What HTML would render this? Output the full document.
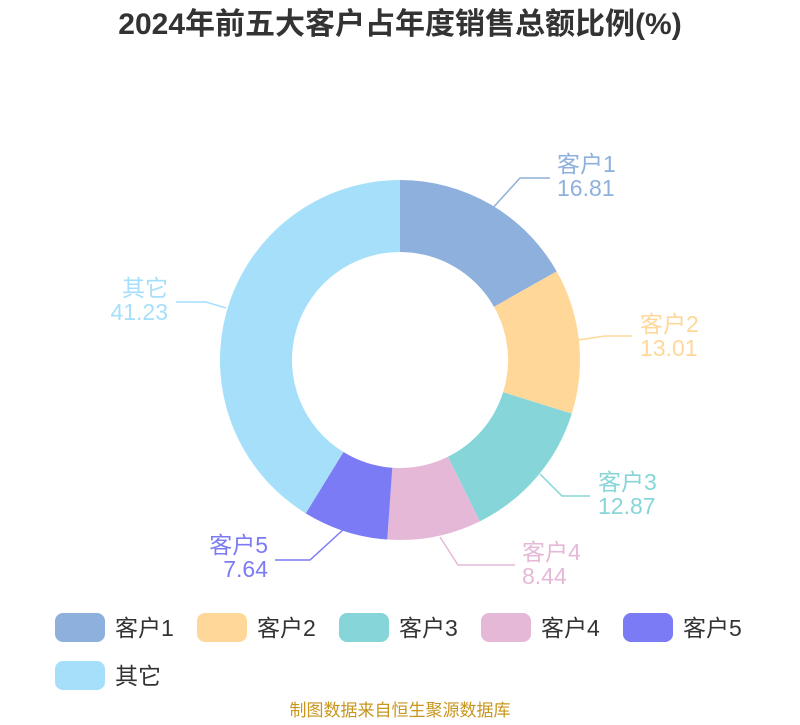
<!DOCTYPE html>
<html><head><meta charset="utf-8"><style>
body{margin:0;background:#fff;width:800px;height:720px;overflow:hidden;font-family:"Liberation Sans","Noto Sans CJK SC",sans-serif}
svg text{font-family:"Liberation Sans","Noto Sans CJK SC",sans-serif}
</style></head><body>
<svg id="s" width="800" height="720" xmlns="http://www.w3.org/2000/svg">
<text x="400" y="34" text-anchor="middle" font-size="30" font-weight="bold" fill="#333">2024年前五大客户占年度销售总额比例(%)</text>
<g id="arcs"></g>
<g fill="none" stroke-width="1.5">
<polyline points="490,211 520,178 550,178" stroke="#8eb0dc"/>
<polyline points="578,340 605,336 632,336" stroke="#ffd899"/>
<polyline points="540,474 562,496 590,496" stroke="#86d6d9"/>
<polyline points="440,537 458,565 515,565" stroke="#e6b8d8"/>
<polyline points="345,528 310,560 275,560" stroke="#7b7bf5"/>
<polyline points="226,308 206,302 176,302" stroke="#a6dffa"/>
</g>
<g font-size="23">
<text x="557" y="172" fill="#8eb0dc">客户1</text><text x="557" y="196" fill="#8eb0dc">16.81</text>
<text x="640" y="332" fill="#ffd899">客户2</text><text x="640" y="356" fill="#ffd899">13.01</text>
<text x="598" y="490" fill="#86d6d9">客户3</text><text x="598" y="514" fill="#86d6d9">12.87</text>
<text x="522" y="560" fill="#e6b8d8">客户4</text><text x="522" y="584" fill="#e6b8d8">8.44</text>
<text x="268" y="553" text-anchor="end" fill="#7b7bf5">客户5</text><text x="268" y="577" text-anchor="end" fill="#7b7bf5">7.64</text>
<text x="168" y="296" text-anchor="end" fill="#a6dffa">其它</text><text x="168" y="320" text-anchor="end" fill="#a6dffa">41.23</text>
</g>
<g font-size="23" fill="#333">
<rect x="55" y="613" width="50" height="29" rx="8" fill="#8eb0dc"/><text x="115" y="636">客户1</text>
<rect x="197" y="613" width="50" height="29" rx="8" fill="#ffd899"/><text x="257" y="636">客户2</text>
<rect x="339" y="613" width="50" height="29" rx="8" fill="#86d6d9"/><text x="399" y="636">客户3</text>
<rect x="481" y="613" width="50" height="29" rx="8" fill="#e6b8d8"/><text x="541" y="636">客户4</text>
<rect x="623" y="613" width="50" height="29" rx="8" fill="#7b7bf5"/><text x="683" y="636">客户5</text>
<rect x="55" y="661" width="50" height="29" rx="8" fill="#a6dffa"/><text x="115" y="684">其它</text>
</g>
<text x="400" y="716" text-anchor="middle" font-size="17" fill="#c8961e">制图数据来自恒生聚源数据库</text>
</svg>
<script>
var v=[16.81,13.01,12.87,8.44,7.64,41.23],c=["#8eb0dc","#ffd899","#86d6d9","#e6b8d8","#7b7bf5","#a6dffa"];
var cx=400,cy=360,R=180,r=108,a=0,h="";
function p(rad,t){return [cx+rad*Math.sin(t),cy-rad*Math.cos(t)];}
for(var i=0;i<6;i++){var b=a+v[i]/100*2*Math.PI,l=(b-a)>Math.PI?1:0;
var p1=p(R,a),p2=p(R,b),p3=p(r,b),p4=p(r,a);
h+='<path fill="'+c[i]+'" d="M'+p1+' A'+R+','+R+' 0 '+l+' 1 '+p2+' L'+p3+' A'+r+','+r+' 0 '+l+' 0 '+p4+'Z"/>';a=b;}
document.getElementById("arcs").innerHTML=h;
</script>
</body></html>
